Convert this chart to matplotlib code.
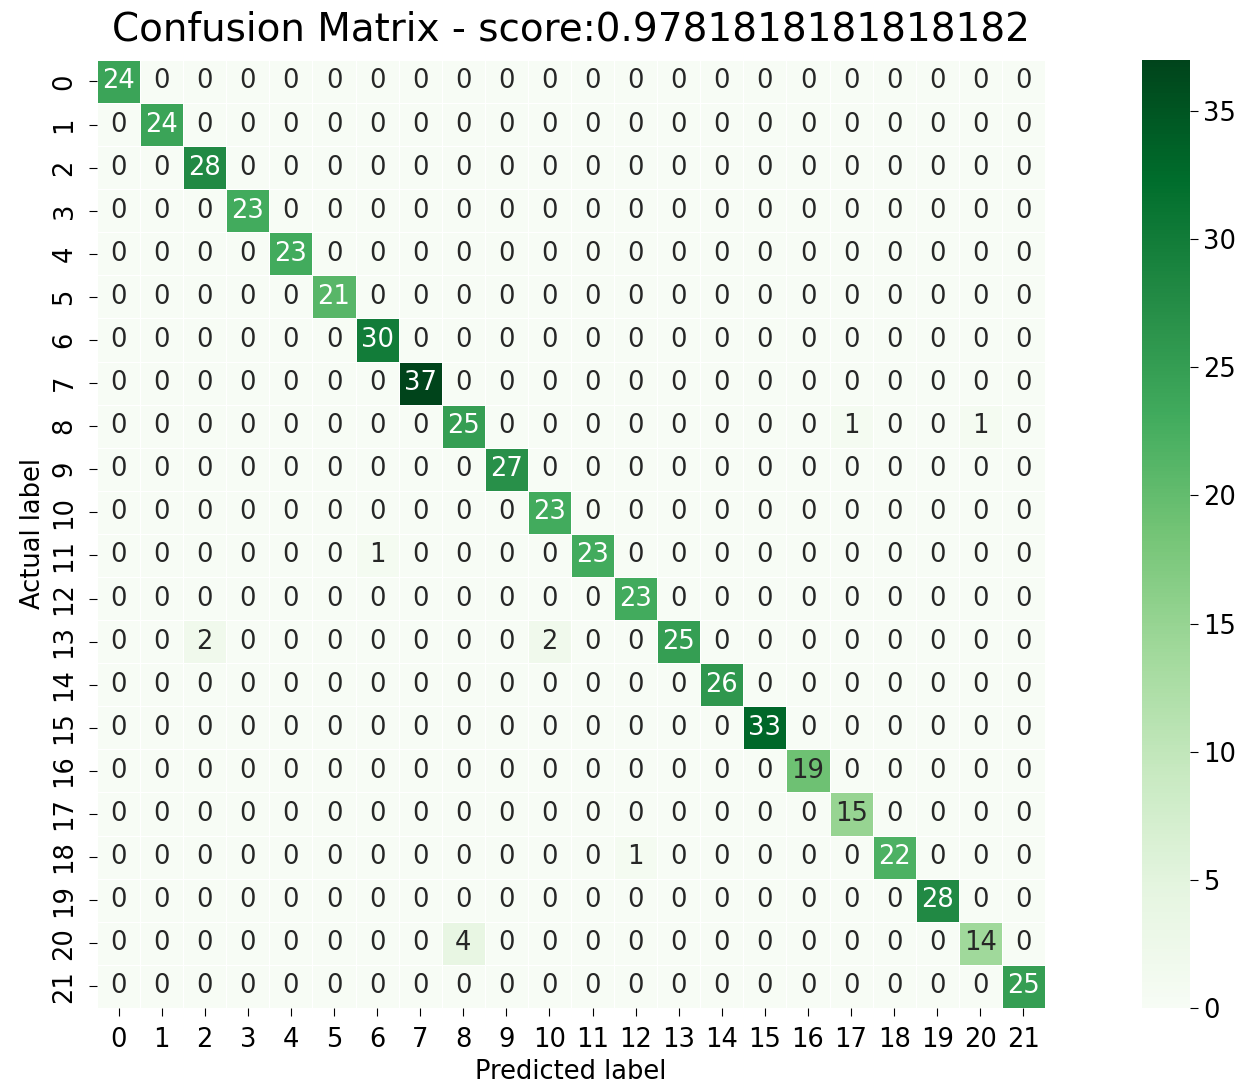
import matplotlib
matplotlib.use('Agg')
import matplotlib.pyplot as plt
import seaborn as sns
import numpy as np

labels = [str(i) for i in range(22)]
diag = [24, 24, 28, 23, 23, 21, 30, 37, 25, 27, 23, 23, 23, 25, 26, 33, 19, 15, 22, 28, 14, 25]
# (actual, predicted, count) for the misclassified samples
errors = [(8, 17, 1), (8, 20, 1), (11, 6, 1), (13, 2, 2), (13, 10, 2), (18, 12, 1), (20, 8, 4)]

cm = np.diag(diag)
for r, c, v in errors:
    cm[r, c] = v
score = np.trace(cm) / cm.sum()

fig = plt.figure(figsize=(12.5, 10.87), dpi=100)
ax = fig.add_axes([0.0776, 0.0727, 0.7584, 0.8723])
cax = fig.add_axes([0.9136, 0.0727, 0.0384, 0.8723])

sns.heatmap(cm, annot=True, fmt='d', cmap='Greens', linewidths=0.5, linecolor='white',
            square=True, ax=ax, cbar_ax=cax, annot_kws={'fontsize': 18.5})

ax.set_title('Confusion Matrix - score:' + str(score), fontsize=28, pad=14)
ax.set_xlabel('Predicted label', fontsize=18.5)
ax.set_ylabel('Actual label', fontsize=18.5)
ax.set_xticklabels(labels, fontsize=18.5, rotation=0)
ax.set_yticklabels(labels, fontsize=18.5, rotation=90, va='center')
ax.tick_params(length=6, pad=8)
cax.tick_params(labelsize=18.5, length=6)
cax.set_yticks([0, 5, 10, 15, 20, 25, 30, 35])

plt.savefig('out.png', dpi=100)
